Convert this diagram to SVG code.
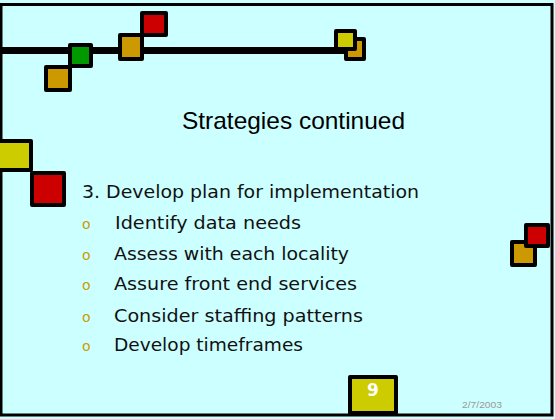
<svg xmlns="http://www.w3.org/2000/svg" width="555" height="419" viewBox="0 0 555 419">
<style>
.sq{stroke:#000;stroke-width:4;stroke-linejoin:round}
.y{fill:#CCCC00}.o{fill:#CC9900}.r{fill:#CC0000}.g{fill:#009900}
.body{font-family:"DejaVu Sans","Liberation Sans",sans-serif;font-size:18.5px;fill:#111}
.bul{font-family:"DejaVu Sans","Liberation Sans",sans-serif;font-size:14px;fill:#CC9900}
</style>
<rect x="0" y="0" width="555" height="419" fill="#CCFFFF"/>
<rect id="frame" x="1" y="4.5" width="551" height="410.5" fill="none" stroke="#000" stroke-width="3"/>
<g id="deco-top">
  <line x1="0" y1="50.5" x2="345" y2="50.5" stroke="#000" stroke-width="7"/>
  <rect class="sq o" x="46" y="67" width="24" height="23"/>
  <rect class="sq g" x="70" y="45" width="21" height="21"/>
  <rect class="sq o" x="120" y="35" width="22" height="24"/>
  <rect class="sq r" x="142" y="13" width="24" height="22"/>
  <rect class="sq o" x="346" y="39" width="18" height="20"/>
  <rect class="sq y" x="336" y="31" width="19" height="18"/>
</g>
<g id="deco-left">
  <rect class="sq y" x="-3" y="141" width="34" height="29"/>
  <rect class="sq r" x="32" y="173" width="32" height="32"/>
</g>
<g id="deco-right">
  <rect class="sq o" x="512" y="242" width="23" height="23"/>
  <rect class="sq r" x="526" y="225" width="22" height="21"/>
</g>
<g id="title">
  <text x="293.5" y="129" text-anchor="middle" font-family="'Liberation Sans',Arial,sans-serif" font-size="24" textLength="223" lengthAdjust="spacingAndGlyphs">Strategies continued</text>
</g>
<g id="content">
  <text class="body" x="82" y="198" textLength="337" lengthAdjust="spacingAndGlyphs">3. Develop plan for implementation</text>
  <text class="bul" x="82" y="229">o</text>
  <text class="body" x="115" y="229" textLength="186" lengthAdjust="spacingAndGlyphs">Identify data needs</text>
  <text class="bul" x="82" y="260">o</text>
  <text class="body" x="114" y="260" textLength="235" lengthAdjust="spacingAndGlyphs">Assess with each locality</text>
  <text class="bul" x="82" y="290">o</text>
  <text class="body" x="114" y="290" textLength="243" lengthAdjust="spacingAndGlyphs">Assure front end services</text>
  <text class="bul" x="82" y="322">o</text>
  <text class="body" x="114" y="322" textLength="249" lengthAdjust="spacingAndGlyphs">Consider staffing patterns</text>
  <text class="bul" x="82" y="351">o</text>
  <text class="body" x="114" y="351" textLength="189" lengthAdjust="spacingAndGlyphs">Develop timeframes</text>
</g>
<g id="page-number">
  <rect class="sq y" x="350" y="377" width="46" height="36"/>
  <text x="373" y="396" text-anchor="middle" font-family="'DejaVu Sans','Liberation Sans',sans-serif" font-size="17" font-weight="bold" fill="#FFFFFF">9</text>
</g>
<g id="date">
  <text x="462" y="408" font-family="'Liberation Sans',Arial,sans-serif" font-size="9" fill="#999999" textLength="40" lengthAdjust="spacingAndGlyphs">2/7/2003</text>
</g>
</svg>
